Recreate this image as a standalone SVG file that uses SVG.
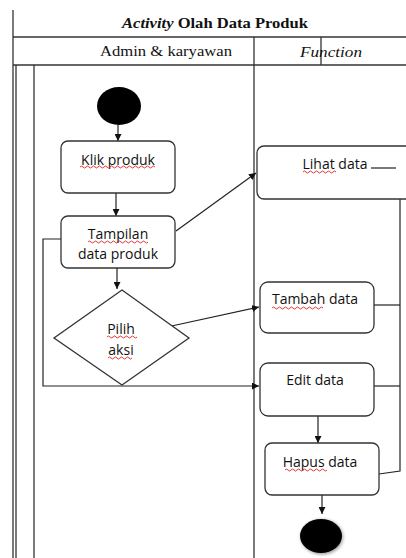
<svg xmlns="http://www.w3.org/2000/svg" width="406" height="558" viewBox="0 0 406 558">
<defs>
<marker id="ah" viewBox="0 0 10 10" refX="10" refY="5" markerWidth="7" markerHeight="7" markerUnits="userSpaceOnUse" orient="auto">
<path d="M0,0 L10,5 L0,10 z" fill="#111"/>
</marker>
<radialGradient id="glow" cx="50%" cy="50%" r="50%">
<stop offset="80%" stop-color="#bbb"/>
<stop offset="100%" stop-color="#fff" stop-opacity="0"/>
</radialGradient>
</defs>
<style>
.ln{stroke:#333;stroke-width:1.3;fill:none}
.box{fill:#fff;stroke:#333;stroke-width:1.3}
.cn{stroke:#222;stroke-width:1.2;fill:none}
.t{font-family:"Open Sans","Liberation Sans",sans-serif;font-size:14px;fill:#111;text-anchor:middle}
.hd{font-family:"Liberation Serif","DejaVu Serif",serif;font-size:14px;fill:#111;text-anchor:middle}
.sp{stroke:#e02020;stroke-width:0.9;fill:none}
</style>
<rect width="406" height="558" fill="#fff"/>
<g id="frame">
<line class="ln" x1="13" y1="10" x2="13" y2="558"/>
<line class="ln" x1="16" y1="65" x2="16" y2="558"/>
<line class="ln" x1="34" y1="65" x2="34" y2="558"/>
<line class="ln" x1="254" y1="37" x2="254" y2="558"/>
<line class="ln" x1="321" y1="37" x2="321" y2="65"/>
<line class="ln" x1="13" y1="37" x2="406" y2="37"/>
<line class="ln" x1="13" y1="65" x2="406" y2="65"/>
<text class="hd" x="215" y="28" font-weight="bold" textLength="186" lengthAdjust="spacingAndGlyphs"><tspan font-style="italic">Activity</tspan> Olah Data Produk</text>
<text class="hd" x="166" y="56" textLength="132" lengthAdjust="spacingAndGlyphs">Admin &amp; karyawan</text>
<text class="hd" x="331" y="57" font-style="italic" textLength="62" lengthAdjust="spacingAndGlyphs">Function</text>
</g>
<g id="connectors">
<line class="cn" x1="118" y1="125" x2="118" y2="141" marker-end="url(#ah)"/>
<line class="cn" x1="116" y1="193" x2="116" y2="216" marker-end="url(#ah)"/>
<line class="cn" x1="176" y1="231" x2="256" y2="173" marker-end="url(#ah)"/>
<line class="cn" x1="117" y1="268" x2="117" y2="289" marker-end="url(#ah)"/>
<line class="cn" x1="167" y1="327" x2="259" y2="307" marker-end="url(#ah)"/>
<polyline class="cn" points="61,239 43,239 43,386 259,386" marker-end="url(#ah)"/>
<line class="cn" x1="318" y1="416" x2="318" y2="443" marker-end="url(#ah)"/>
<line class="cn" x1="322" y1="495" x2="322" y2="514" marker-end="url(#ah)"/>
<polyline class="cn" points="400,199 400,471 379,474"/>
<line class="cn" x1="374" y1="305" x2="400" y2="305"/>
<line class="cn" x1="374" y1="386" x2="400" y2="386"/>
</g>
<g id="start">
<ellipse cx="119" cy="106" rx="22" ry="19" fill="#000"/>
</g>
<g id="klik">
<rect class="box" x="61" y="141" width="114" height="52" rx="7"/>
<text class="t" x="118" y="165">Klik produk</text>
<path class="sp" d="M80,167 q1.5,-2 3,0 t3,0 t3,0 t3,0 t3,0 t3,0 t3,0 t3,0 t3,0 t3,0 t3,0 t3,0 t3,0 t3,0 t3,0 t3,0 t3,0 t3,0 t3,0 t3,0 t3,0 t3,0 t3,0 t3,0 t3,0"/>
</g>
<g id="tampilan">
<rect class="box" x="61" y="216" width="114" height="52" rx="7"/>
<text class="t" x="118" y="239">Tampilan</text>
<text class="t" x="118" y="259">data produk</text>
<path class="sp" d="M88,242 q1.5,-2 3,0 t3,0 t3,0 t3,0 t3,0 t3,0 t3,0 t3,0 t3,0 t3,0 t3,0 t3,0 t3,0 t3,0 t3,0 t3,0 t3,0 t3,0 t3,0 t3,0"/>
</g>
<g id="pilih">
<polygon class="box" points="122,290 189,338 122,385 54,338"/>
<text class="t" x="121" y="334">Pilih</text>
<text class="t" x="121" y="355">aksi</text>
<path class="sp" d="M107,337 q1.5,-2 3,0 t3,0 t3,0 t3,0 t3,0 t3,0 t3,0 t3,0 t3,0 t3,0"/>
<path class="sp" d="M108,358 q1.5,-2 3,0 t3,0 t3,0 t3,0 t3,0 t3,0 t3,0 t3,0"/>
</g>
<g id="lihat">
<rect class="box" x="257" y="146" width="170" height="53" rx="7"/>
<text class="t" x="335" y="169">Lihat data</text>
<path class="sp" d="M303,172 q1.5,-2 3,0 t3,0 t3,0 t3,0 t3,0 t3,0 t3,0 t3,0 t3,0 t3,0 t3,0"/>
<line class="cn" x1="371" y1="168" x2="396" y2="168"/>
</g>
<g id="tambah">
<rect class="box" x="260" y="282" width="114" height="51" rx="8"/>
<text class="t" x="315" y="304">Tambah data</text>
<path class="sp" d="M272,308 q1.5,-2 3,0 t3,0 t3,0 t3,0 t3,0 t3,0 t3,0 t3,0 t3,0 t3,0 t3,0 t3,0 t3,0 t3,0 t3,0 t3,0 t3,0"/>
</g>
<g id="edit">
<rect class="box" x="260" y="363" width="114" height="53" rx="8"/>
<text class="t" x="315" y="385">Edit data</text>
</g>
<g id="hapus">
<rect class="box" x="265" y="443" width="114" height="52" rx="7"/>
<text class="t" x="320" y="467">Hapus data</text>
<path class="sp" d="M285,470 q1.5,-2 3,0 t3,0 t3,0 t3,0 t3,0 t3,0 t3,0 t3,0 t3,0 t3,0 t3,0 t3,0 t3,0 t3,0"/>
</g>
<g id="end">
<ellipse cx="322" cy="537" rx="25" ry="21" fill="url(#glow)"/>
<ellipse cx="321" cy="536" rx="21" ry="17" fill="#000"/>
</g>
</svg>
